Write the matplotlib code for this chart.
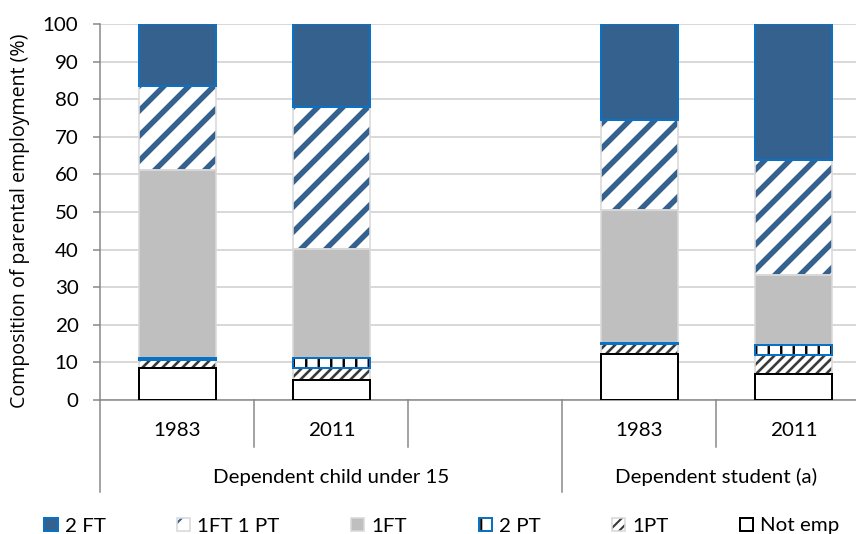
import numpy as np
import matplotlib
matplotlib.use('Agg')
import matplotlib.pyplot as plt
from matplotlib.patches import Patch

# ---------------- data ----------------
years = ['1983', '2011', '', '1983', '2011']
groups = ['Dependent child under 15', 'Dependent student (a)']
group_slots = [(0, 2), (3, 4)]          # first and last slot index of each group (slot 2 is empty)
series_names = ['Not emp', '1PT', '2 PT', '1FT', '1FT 1 PT', '2 FT']   # bottom -> top
not_emp = [8.4, 5.3, np.nan, 12.2, 6.9]
one_pt = [2.2, 3.3, np.nan, 2.7, 5.2]
two_pt = [0.5, 2.5, np.nan, 0.3, 2.4]
one_ft = [50.2, 29.0, np.nan, 35.3, 18.7]
one_ft_one_pt = [22.3, 37.9, np.nan, 24.0, 30.6]
two_ft = [16.4, 22.0, np.nan, 25.5, 36.2]
series_values = [not_emp, one_pt, two_pt, one_ft, one_ft_one_pt, two_ft]
legend_order = ['2 FT', '1FT 1 PT', '1FT', '2 PT', '1PT', 'Not emp']
yticks = list(range(0, 101, 10))

# ---------------- styles ----------------
DPI = 150
PT = 72.0 / DPI          # points per pixel
W, H = 857, 534
DARK_BLUE = '#35618F'
BRIGHT_BLUE = '#0A72C4'
LIGHT_GRAY = '#D9D9D9'
AXIS_GRAY = '#868686'

styles = {
    'Not emp':  dict(face='white', hatch=None, hcolor=None, hlw=0, edge='black', elw=2.0, z=4),
    '1PT':      dict(face='white', hatch='/////', hcolor='#3A3A3A', hlw=2.6, edge=LIGHT_GRAY, elw=1.6, z=3),
    '2 PT':     dict(face='white', hatch='||', hcolor='black', hlw=2.4, edge=BRIGHT_BLUE, elw=2.0, z=4),
    '1FT':      dict(face='#BFBFBF', hatch=None, hcolor=None, hlw=0, edge=LIGHT_GRAY, elw=1.6, z=3),
    '1FT 1 PT': dict(face='white', hatch='//', hcolor=DARK_BLUE, hlw=5.5, edge=LIGHT_GRAY, elw=1.6, z=3),
    '2 FT':     dict(face=DARK_BLUE, hatch=None, hcolor=None, hlw=0, edge=BRIGHT_BLUE, elw=2.0, z=4),
}

plt.rcParams['font.family'] = ['Lato', 'DejaVu Sans']
TICK_FS = 20.5 * PT

fig = plt.figure(figsize=(W / DPI, H / DPI), dpi=DPI)
ax = fig.add_axes([100.5 / W, 134 / H, 770 / W, 376 / H])

x = np.arange(len(years))
bar_w = 0.5
bottom = np.zeros(len(years))
handles = {}

def hatch_bar(xs, hs, bs, st, zorder):
    if st['hatch']:
        with plt.rc_context({'hatch.linewidth': st['hlw'] * PT}):
            bars = ax.bar(xs, hs, bottom=bs, width=bar_w, color=st['face'],
                          edgecolor=st['hcolor'], linewidth=0, hatch=st['hatch'], zorder=zorder)
            for p in bars:
                if hasattr(p, 'set_hatch_linewidth'):
                    p.set_hatch_linewidth(st['hlw'] * PT)
    else:
        ax.bar(xs, hs, bottom=bs, width=bar_w, color=st['face'], linewidth=0, zorder=zorder)

for name, vals in zip(series_names, series_values):
    st = styles[name]
    v = np.array(vals, dtype=float)
    m = ~np.isnan(v)
    hatch_bar(x[m], v[m], bottom[m], st, 2)
    ax.bar(x[m], v[m], bottom=bottom[m], width=bar_w, fill=False,
           edgecolor=st['edge'], linewidth=st['elw'] * PT, zorder=st['z'])
    bottom[m] += v[m]

    # legend handle
    if st['hatch']:
        lw = st['hlw'] * PT * 0.5
        with plt.rc_context({'hatch.linewidth': lw}):
            hp = Patch(facecolor=st['face'], edgecolor=st['hcolor'], hatch=st['hatch'], linewidth=0)
            if hasattr(hp, 'set_hatch_linewidth'):
                hp.set_hatch_linewidth(lw)
    else:
        hp = Patch(facecolor=st['face'], linewidth=0)
    op = Patch(facecolor='none', edgecolor=st['edge'], linewidth=st['elw'] * PT)
    handles[name] = (hp, op)

# axes styling
ax.set_xlim(-0.5, len(years) - 0.5)
ax.set_ylim(0, 100)
ax.set_yticks(yticks)
ax.yaxis.grid(True, color=LIGHT_GRAY, linewidth=2.0 * PT, zorder=0)
ax.set_axisbelow(True)
for s in ['top', 'right']:
    ax.spines[s].set_visible(False)
for s in ['left', 'bottom']:
    ax.spines[s].set_color(AXIS_GRAY)
    ax.spines[s].set_linewidth(1.5 * PT)
ax.tick_params(axis='y', direction='out', length=7 * PT, width=1.5 * PT, color=AXIS_GRAY,
               pad=15 * PT, labelsize=TICK_FS, labelcolor='black')
ax.tick_params(axis='x', length=0, labelbottom=False)

# multi-level category axis
trans = ax.get_xaxis_transform()
ah = 376.0
for xi, lab in zip(x, years):
    if lab:
        ax.text(xi, -31 / ah, lab, transform=trans, ha='center', va='center',
                fontsize=TICK_FS, color='black', clip_on=False)
group_edges = []
for (a, b), g in zip(group_slots, groups):
    lo, hi = x[a] - 0.5, x[b] + 0.5
    group_edges += [lo, hi]
    ax.text((lo + hi) / 2, -77 / ah, g, transform=trans, ha='center', va='center',
            fontsize=TICK_FS, color='black', clip_on=False)
boundaries = np.arange(len(years) + 1) - 0.5
for bx in boundaries:
    long_line = any(np.isclose(bx, e) for e in group_edges)
    y_end = -92 / ah if long_line else -47 / ah
    ax.plot([bx, bx], [0, y_end], transform=trans, color=AXIS_GRAY,
            linewidth=1.5 * PT, clip_on=False, zorder=5)

# y label
fig.text(20 / W, 1 - 221 / H, 'Composition of parental employment (%)', rotation=90,
         ha='center', va='center', fontsize=19.5 * PT, family=['Open Sans', 'DejaVu Sans'],
         color='black')

# legend
leg = fig.legend([handles[n] for n in legend_order], legend_order, ncol=6, loc='center',
                 bbox_to_anchor=(442 / W, 1 - 526 / H), frameon=False,
                 fontsize=TICK_FS, handlelength=0.64, handleheight=0.64,
                 handletextpad=0.34, columnspacing=3.5, borderpad=0, borderaxespad=0)

fig.savefig('out.png', dpi=DPI)
